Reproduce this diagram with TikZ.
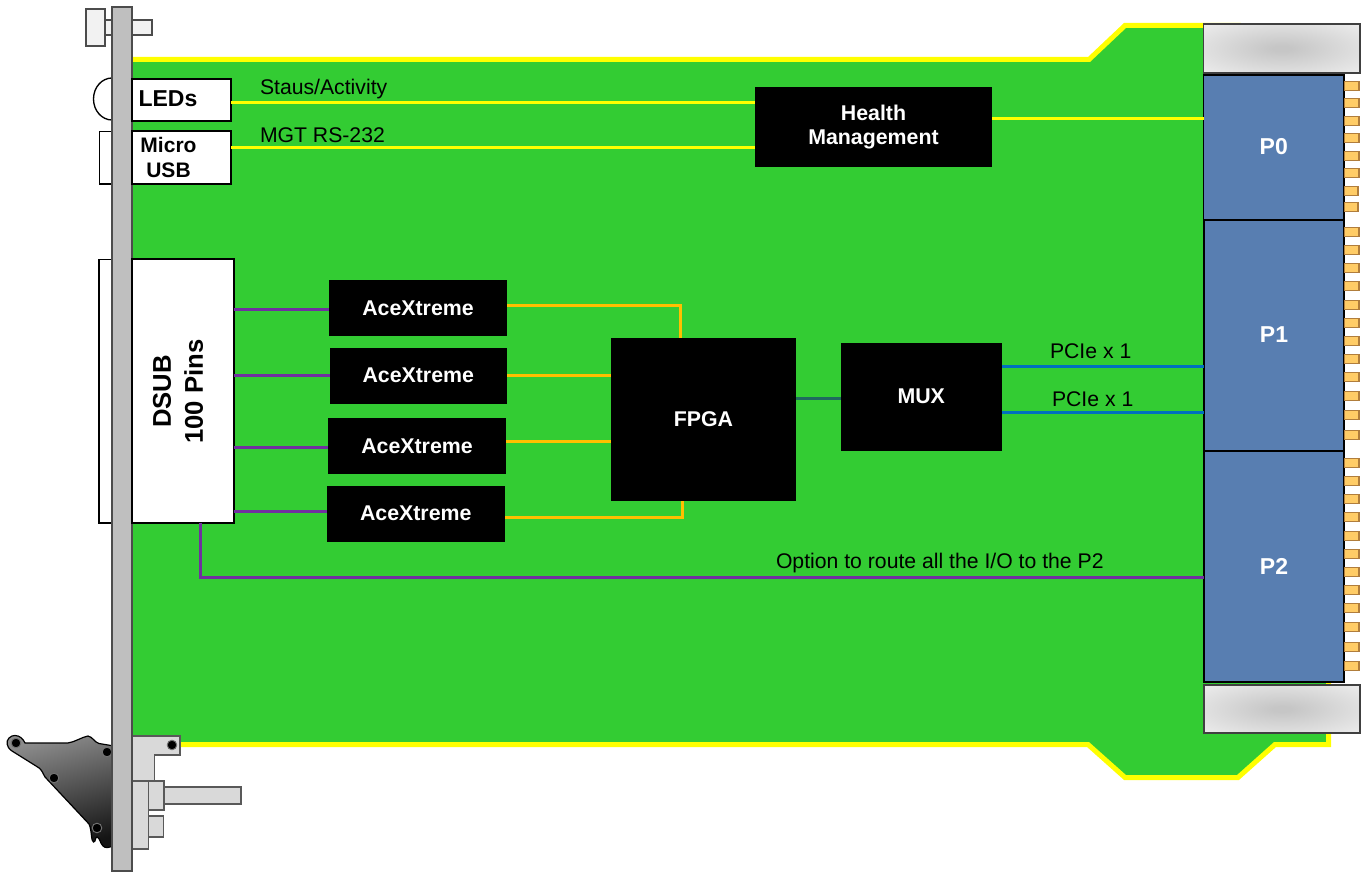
\documentclass[tikz,border=0pt]{standalone}
\usepackage{fontspec}
\setmainfont{Liberation Sans}
\definecolor{pcb}{HTML}{33CC33}
\definecolor{lineyellow}{HTML}{FFFF00}
\definecolor{buspurple}{HTML}{7030A0}
\definecolor{busorange}{HTML}{FFC000}
\definecolor{busblue}{HTML}{0070C0}
\definecolor{busteal}{HTML}{1F6A5E}
\definecolor{conblue}{HTML}{587EB1}
\definecolor{pinfill}{HTML}{FFCC66}
\definecolor{pinedge}{HTML}{B07D3C}
\definecolor{plate}{HTML}{BFBFBF}
\definecolor{metal}{HTML}{D9D9D9}
\definecolor{keyin}{HTML}{C6C6C6}
\definecolor{keyout}{HTML}{F2F2F2}
\pgfdeclareradialshading{keyglow}{\pgfpoint{0bp}{0bp}}{color(0bp)=(keyin); color(3bp)=(keyin); color(40bp)=(keyout); color(100bp)=(keyout)}
\newcommand{\pxbox}[7]{\node[#1, minimum width={((#5)-(#3))*0.75pt}, minimum height={((#6)-(#4))*0.75pt}] (#2) at ({((#3)+(#5))/2},{((#4)+(#6))/2}) {#7};}
\tikzset{
  base/.style={rectangle, inner sep=0pt, outer sep=0pt},
  blk/.style={base, fill=black, text=white, align=center, font=\bfseries\fontsize{16}{18}\selectfont},
  whitebox/.style={base, draw=black, line width=1.5pt, fill=white},
  backing/.style={base, draw=black, line width=1pt, fill=white},
  conn/.style={base, draw=black, line width=1.3pt, fill=conblue, text=white, font=\bfseries\fontsize{17.25}{19}\selectfont},
  keybox/.style={base, draw=black!75, line width=1.2pt, shading=keyglow},
  pinbox/.style={base, draw=pinedge, line width=0.8pt, fill=pinfill},
  part/.style={base, draw=black!65, line width=0.9pt, fill=metal},
  screwpart/.style={base, draw=black!70, line width=1pt, fill=keyout},
  ylink/.style={draw=lineyellow, line width=2pt},
  plink/.style={draw=buspurple, line width=2pt},
  olink/.style={draw=busorange, line width=2pt},
  blink/.style={draw=busblue, line width=1.8pt},
  tlink/.style={draw=busteal, line width=2pt},
  lbl/.style={base, text=black, font=\fontsize{15.9}{18}\selectfont},
  boldlbl/.style 2 args={base, text=black, align=center, font=\bfseries\fontsize{#1}{#2}\selectfont},
  hole/.style={fill=black, draw=black!55, line width=0.7pt}
}
\begin{document}
\begin{tikzpicture}[x=0.75pt,y=-0.75pt]
\useasboundingbox (0,0) rectangle (1365,873);
% board
\draw[fill=pcb, draw=lineyellow, line width=3.75pt, miter limit=10]
  (125,59.5) -- (1089,59.5) -- (1125,25.5) -- (1240,25.5) -- (1277,59.5) -- (1328.5,59.5)
  -- (1328.5,744.5) -- (1275,744.5) -- (1238,777.5) -- (1125,777.5) -- (1088,744.5) -- (125,744.5) -- cycle;
% front-panel parts behind the plate
\pxbox{screwpart}{screwshaft}{105}{20}{152}{35}{}
\pxbox{screwpart}{screwhead}{86}{9}{105}{46}{}
\draw[draw=black, line width=1pt, fill=white] (112,78) arc[start angle=90, end angle=270, x radius=18.5, y radius=-21] -- cycle;
\pxbox{backing}{usbback}{99.5}{131.5}{114}{184}{}
\pxbox{backing}{dsubback}{99}{259.5}{114}{523}{}
% ejector
\draw[top color=black!45, bottom color=black!92, shading angle=15, draw=black, line width=0.9pt]
  (15,735.5) .. controls (20,735.5) and (23,739) .. (25,743) -- (68,743)
  .. controls (75,742) and (82,737) .. (88,736) .. controls (93,737) and (94,742) .. (99,743.5)
  -- (114,746) -- (114,845) .. controls (110,848) and (105,848.5) .. (103,846)
  .. controls (100,843) and (100,838) .. (97,837) .. controls (95,837) and (96,842) .. (93.5,842)
  .. controls (91,842) and (92,830) .. (89,824) -- (45,777)
  .. controls (42,772) and (42,769) .. (36,766) -- (12,751)
  .. controls (6,747) and (6,741) .. (9,738) .. controls (11,736) and (13,735.5) .. (15,735.5) -- cycle;
\foreach \hx/\hy in {16/743,107/752,54/778,97/828}{\fill[hole] (\hx,\hy) circle[radius=3.6pt];}
% bracket and lower parts
\draw[part] (130,736) -- (180,736) -- (180,755) -- (154.3,755) -- (154.3,781) -- (130,781) -- cycle;
\fill[hole] (172,745) circle[radius=3.6pt];
\pxbox{part}{lowerblock}{130}{781}{148.5}{849}{}
\pxbox{part}{pinblock}{148.5}{781}{164}{810}{}
\pxbox{part}{longpin}{164}{787}{241}{804}{}
\pxbox{part}{smallblock}{148.5}{816}{163.5}{837}{}
% plate
\pxbox{base, draw=black!70, line width=1pt, fill=plate}{plate}{112}{7}{132}{871}{}
% boxes on the board
\pxbox{whitebox}{leds}{132}{79}{231}{121}{}
\pxbox{whitebox}{usb}{132}{131.5}{231}{184}{}
\pxbox{whitebox}{dsub}{132}{259.5}{233.5}{523}{}
\pxbox{blk}{health}{755}{87}{992}{167}{Health\\Management}
\pxbox{blk}{ace1}{329}{280}{507}{336}{AceXtreme}
\pxbox{blk}{ace2}{329.5}{348}{507}{404}{\raisebox{0.75pt}{AceXtreme}}
\pxbox{blk}{ace3}{328}{418}{506}{474}{AceXtreme}
\pxbox{blk}{ace4}{326.5}{486}{505}{542}{\raisebox{0.75pt}{AceXtreme}}
\pxbox{blk}{fpga}{611}{338}{796}{501}{\raisebox{0.5pt}{FPGA}}
\pxbox{blk}{mux}{841}{343}{1001.5}{451}{\raisebox{1pt}{MUX}}
% connectors
\pxbox{keybox}{keytop}{1203.5}{24}{1360}{73}{}
\pxbox{keybox}{keybot}{1204}{685}{1360}{733}{}
\pxbox{conn}{pzero}{1203.5}{75}{1344}{220}{\raisebox{1.5pt}{P0}}
\pxbox{conn}{pone}{1204}{220}{1344}{451}{\raisebox{0.75pt}{P1}}
\pxbox{conn}{ptwo}{1204}{451}{1344}{682}{\raisebox{0.75pt}{P2}}
\foreach \py in {86,103,121,138,156,173,232,250,268,286,305,323,341,359,377,396,415,435,463,481,499,517,536,554,572,590,608,627,647,666}{
  \pxbox{pinbox}{pin\py}{1344.5}{\py-4.5}{1359}{\py+4.5}{}
}
\pxbox{pinbox}{pin191}{1344.5}{186.5}{1358}{195.5}{}
\pxbox{pinbox}{pin207}{1344.5}{202.5}{1358}{211.5}{}
% links
\draw[ylink] (leds.east |- 0,102.5) -- (health.west |- 0,102.5);
\draw[ylink] (usb.east |- 0,147.5) -- (health.west |- 0,147.5);
\draw[ylink] (health.east |- 0,118.5) -- (pzero.west |- 0,118.5);
\draw[plink] (dsub.east |- 0,309.5) -- (ace1.west |- 0,309.5);
\draw[plink] (dsub.east |- 0,375.5) -- (ace2.west |- 0,375.5);
\draw[plink] (dsub.east |- 0,447.5) -- (ace3.west |- 0,447.5);
\draw[plink] (dsub.east |- 0,511.5) -- (ace4.west |- 0,511.5);
\draw[plink] (dsub.south -| 200.5,0) -- (200.5,577.5) -- (ptwo.west |- 0,577.5);
\draw[olink] (ace1.east |- 0,305.5) -- (680.5,305.5) -- (fpga.north -| 680.5,0);
\draw[olink] (ace2.east |- 0,375.5) -- (fpga.west |- 0,375.5);
\draw[olink] (ace3.east |- 0,441.5) -- (fpga.west |- 0,441.5);
\draw[olink] (ace4.east |- 0,517.5) -- (682.5,517.5) -- (fpga.south -| 682.5,0);
\draw[tlink] (fpga.east |- 0,398.5) -- (mux.west |- 0,398.5);
\draw[blink] (mux.east |- 0,366.5) -- (pone.west |- 0,366.5);
\draw[blink] (mux.east |- 0,412.5) -- (pone.west |- 0,412.5);
% labels
\node[boldlbl={17.25}{20}] (ledstext) at (168,99) {LEDs};
\node[boldlbl={15.75}{18.75}] (usbtext) at (168.5,157) {Micro\\USB};
\node[boldlbl={19.25}{24}, rotate=90] (dsubtext) at (178,391.5) {DSUB\\100 Pins};
\node[lbl, anchor=west] (statuslbl) at (260,89) {Staus/Activity};
\node[lbl, anchor=west] (mgtlbl) at (260,135.5) {MGT RS-232};
\node[lbl, anchor=west] (pcielbla) at (1050,351.5) {PCIe x 1};
\node[lbl, anchor=west] (pcielblb) at (1052,399.5) {PCIe x 1};
\node[lbl, anchor=west] (optionlbl) at (776,563) {Option to route all the I/O to the P2};
\end{tikzpicture}
\end{document}
